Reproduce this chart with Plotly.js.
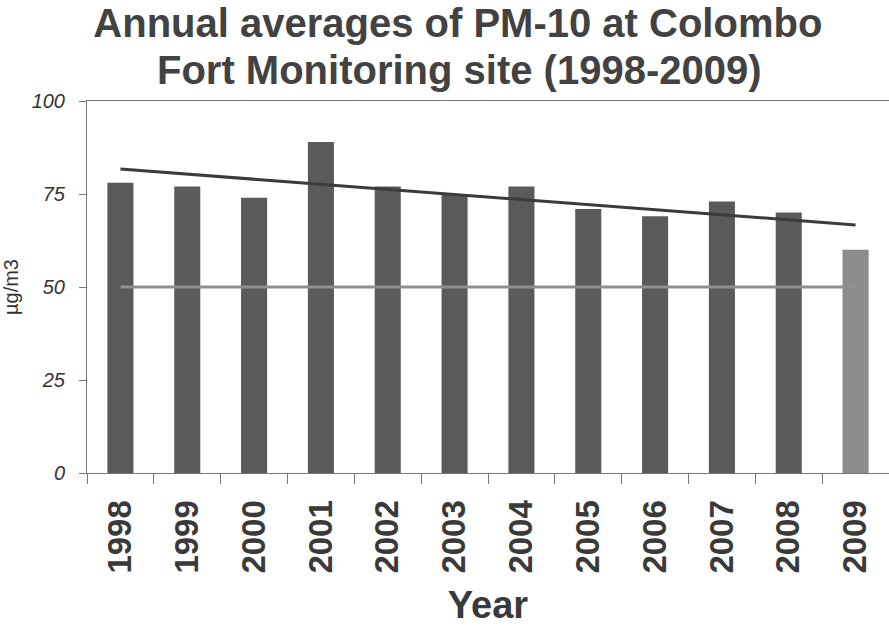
<!DOCTYPE html>
<html>
<head>
<meta charset="utf-8">
<script src="https://cdn.plot.ly/plotly-3.0.1.min.js"></script>
<style>html,body{margin:0;padding:0;background:#fff;}#chart{width:889px;height:626px;}</style>
</head>
<body>
<div id="chart"></div>
<script>
// Data
const years = ['1998','1999','2000','2001','2002','2003','2004','2005','2006','2007','2008','2009'];
const pm10 = [78, 77, 74, 89, 77, 75, 77, 71, 69, 73, 70, 60];
const trendYears = ['1998', '2009'];
const trendValues = [81.7, 66.7];
const standardYears = ['1998', '2009'];
const standardValues = [50, 50];
const yTicks = [0, 25, 50, 75, 100];
const titleLine1 = 'Annual averages of PM-10 at Colombo';
const titleLine2 = 'Fort Monitoring site (1998-2009)';

const barColors = years.map((y, i) => i === years.length - 1 ? '#8c8c8c' : '#5a5a5a');
const titleFont = {family: 'Arial, "Liberation Sans", sans-serif', size: 40, color: '#424242', weight: 'bold'};

const traces = [
  {
    type: 'bar', x: years, y: pm10,
    marker: {color: barColors, line: {width: 0}},
    hoverinfo: 'x+y'
  },
  {
    type: 'scatter', mode: 'lines', x: standardYears, y: standardValues,
    line: {color: '#8f8f8f', width: 3}
  },
  {
    type: 'scatter', mode: 'lines', x: trendYears, y: trendValues,
    line: {color: '#3b3b3b', width: 3}
  }
];

const layout = {
  width: 889, height: 626,
  margin: {l: 87, r: 0, t: 101, b: 153},
  paper_bgcolor: '#ffffff', plot_bgcolor: '#ffffff',
  showlegend: false,
  bargap: 0.61,
  title: {
    text: titleLine1,
    font: titleFont,
    x: 0.515, xanchor: 'center', yref: 'container', y: 0.9625, yanchor: 'middle'
  },
  annotations: [{
    text: titleLine2, font: titleFont, showarrow: false,
    xref: 'paper', yref: 'paper', x: 0.465, y: 1.083, xanchor: 'center', yanchor: 'middle'
  }],
  xaxis: {
    type: 'category',
    tickson: 'boundaries',
    ticks: 'outside', ticklen: 10, tickcolor: '#777', tickwidth: 1,
    showline: true, linecolor: '#777', linewidth: 1, mirror: true,
    showgrid: false, zeroline: false,
    tickangle: -90,
    ticklabelstandoff: 13,
    tickfont: {family: 'Arial, "Liberation Sans", sans-serif', size: 33, color: '#3a3a3a', weight: 'bold'},
    title: {text: 'Year', font: {family: 'Arial, "Liberation Sans", sans-serif', size: 38, color: '#3a3a3a', weight: 'bold'}, standoff: 21}
  },
  yaxis: {
    range: [0, 100],
    tickvals: yTicks,
    ticks: 'outside', ticklen: 7, tickcolor: '#777',
    showline: true, linecolor: '#777', linewidth: 1,
    showgrid: false, zeroline: false,
    ticklabelstandoff: 10,
    tickfont: {family: 'Arial, "Liberation Sans", sans-serif', size: 20, color: '#333', style: 'italic'},
    title: {text: 'µg/m3', font: {family: 'Arial, "Liberation Sans", sans-serif', size: 20, color: '#333'}, standoff: 10}
  }
};

Plotly.newPlot('chart', traces, layout, {displayModeBar: false, staticPlot: true});
</script>
</body>
</html>
